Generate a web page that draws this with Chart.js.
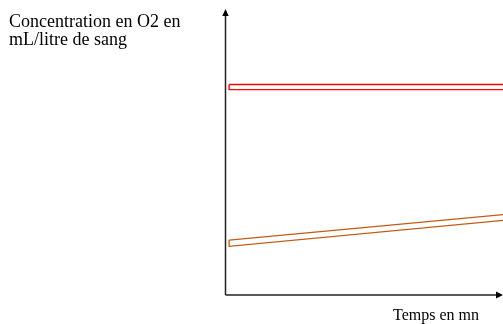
<!DOCTYPE html>
<html>
<head>
<meta charset="utf-8">
<script src="https://cdn.jsdelivr.net/npm/chart.js@4"></script>
<style>
  html, body { margin: 0; padding: 0; background: #fff; }
  #wrap { width: 503px; height: 324px; }
</style>
</head>
<body>
<div id="wrap"><canvas id="myChart"></canvas></div>
<script>
// time (mn) at the two ends of each band
const temps = [0, 10.3];
// arterial blood band (red)
const redTop = [73.6, 73.6];
const redBottom = [71.8, 71.8];
// venous blood band (orange)
const orangeTop = [19.2, 28.4];
const orangeBottom = [17.0, 26.4];

const yTitle = ['Concentration en O2 en', 'mL/litre de sang'];
const xTitle = 'Temps en mn';

function band(top, bottom) {
  return [
    {x: temps[0], y: top[0]},
    {x: temps[1], y: top[1]},
    {x: temps[1], y: bottom[1]},
    {x: temps[0], y: bottom[0]},
    {x: temps[0], y: top[0]}
  ];
}

const axesPlugin = {
  id: 'axesPlugin',
  afterDraw(chart) {
    const ctx = chart.ctx;
    const a = chart.chartArea;
    const x0 = a.left + 0.5;
    const y0 = a.bottom;
    ctx.save();
    ctx.strokeStyle = '#222';
    ctx.fillStyle = '#000';
    ctx.lineWidth = 1.5;
    // y axis
    ctx.beginPath();
    ctx.moveTo(x0, y0);
    ctx.lineTo(x0, a.top + 5);
    ctx.stroke();
    ctx.beginPath();
    ctx.moveTo(x0, a.top);
    ctx.lineTo(x0 - 3.2, a.top + 7);
    ctx.lineTo(x0 + 3.2, a.top + 7);
    ctx.closePath();
    ctx.fill();
    // x axis
    ctx.beginPath();
    ctx.moveTo(x0, y0);
    ctx.lineTo(a.right - 5, y0);
    ctx.stroke();
    ctx.beginPath();
    ctx.moveTo(a.right, y0);
    ctx.lineTo(a.right - 7, y0 - 3.5);
    ctx.lineTo(a.right - 7, y0 + 3.5);
    ctx.closePath();
    ctx.fill();
    // labels
    ctx.fillStyle = '#000';
    ctx.textBaseline = 'alphabetic';
    ctx.font = '18px "Liberation Serif", "Times New Roman", serif';
    ctx.fillText(yTitle[0], 9, 27);
    ctx.fillText(yTitle[1], 9, 45);
    ctx.font = '16px "Liberation Serif", "Times New Roman", serif';
    ctx.fillText(xTitle, 393, 320);
    ctx.restore();
  }
};

new Chart(document.getElementById('myChart'), {
  type: 'scatter',
  data: {
    datasets: [{
      label: 'sang artériel',
      data: band(redTop, redBottom),
      showLine: true,
      borderColor: '#ff0000',
      borderWidth: 1.4,
      pointRadius: 0,
      fill: false
    },
    {
      label: 'sang veineux',
      data: band(orangeTop, orangeBottom),
      showLine: true,
      borderColor: '#c55a11',
      borderWidth: 1.3,
      pointRadius: 0,
      fill: false
    }]
  },
  options: {
    responsive: true,
    maintainAspectRatio: false,
    animation: false,
    layout: {
      padding: {left: 225, top: 9, right: 0, bottom: 29}
    },
    plugins: {
      legend: {display: false},
      tooltip: {enabled: false}
    },
    scales: {
      x: {type: 'linear', min: -0.15, max: 10, display: false},
      y: {type: 'linear', min: 0, max: 100, display: false}
    }
  },
  plugins: [axesPlugin]
});
</script>
</body>
</html>
